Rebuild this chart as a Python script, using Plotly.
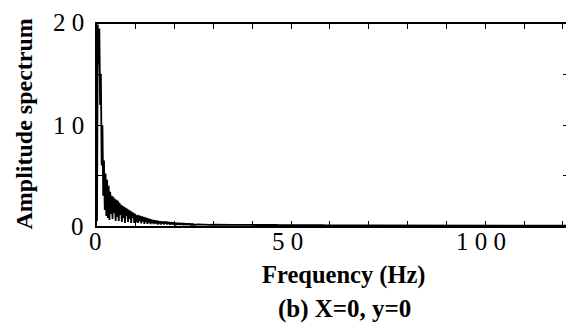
import numpy as np
import plotly.graph_objects as go

# Low-frequency part of the spectrum, sampled every 0.2 Hz from 0 Hz
amp_low = [
    0.5, 20.0, 16.0, 19.6, 12.0, 15.0, 6.0, 10.0, 3.0, 6.5, 1.6, 5.2, 1.0, 4.6, 0.8, 4.0,
    0.6, 3.4, 1.2, 3.0, 0.7, 2.9, 1.3, 2.7, 0.5, 2.6,
    0.9, 2.5, 0.5, 2.3, 1.1, 2.1, 0.4, 2.0, 0.8, 1.9, 0.3, 1.8, 1.0, 1.7, 0.4, 1.6,
    0.7, 1.5, 0.3, 1.4, 0.8, 1.3, 0.3, 1.2, 0.7,
    0.4, 1.1, 0.3, 1.05, 0.5, 1.0, 0.25, 0.95, 0.45, 0.9, 0.2, 0.85, 0.4, 0.8, 0.2, 0.75,
    0.35, 0.7, 0.2, 0.65, 0.3, 0.6, 0.2, 0.58, 0.3,
    0.25, 0.55, 0.15, 0.5, 0.25, 0.48, 0.15, 0.46, 0.25, 0.45, 0.15, 0.45, 0.25, 0.44, 0.15, 0.42,
    0.2, 0.4, 0.12, 0.38, 0.2, 0.36, 0.12, 0.34, 0.18,
    0.15, 0.33, 0.1, 0.32, 0.15, 0.31, 0.1, 0.3, 0.14, 0.29, 0.08, 0.28, 0.13, 0.27, 0.08, 0.26,
    0.12, 0.25, 0.08, 0.24, 0.11, 0.23, 0.07, 0.22, 0.1,
]
low_step_hz = 0.2

# High-frequency tail, sampled every 1 Hz from 26 Hz
amp_tail = [
    0.16, 0.12, 0.15, 0.11, 0.14, 0.12, 0.13, 0.10, 0.13, 0.11, 0.12, 0.10, 0.12, 0.09,
    0.11, 0.10, 0.11, 0.09, 0.10, 0.09, 0.10, 0.08, 0.10, 0.09, 0.09, 0.08, 0.09, 0.08,
    0.09, 0.07, 0.08, 0.08, 0.08, 0.07, 0.08, 0.07, 0.08, 0.07, 0.07, 0.06, 0.07, 0.07,
    0.07, 0.06, 0.07, 0.06, 0.06, 0.06, 0.06, 0.05, 0.06, 0.06, 0.06, 0.05, 0.06, 0.05,
    0.05, 0.05, 0.05, 0.05, 0.05, 0.04, 0.05, 0.05, 0.05, 0.04, 0.05, 0.04, 0.04, 0.04,
    0.04, 0.04, 0.04, 0.04, 0.04, 0.03, 0.04, 0.04, 0.04, 0.03, 0.04, 0.03, 0.03, 0.03,
    0.03, 0.03, 0.03, 0.03, 0.03, 0.03, 0.03, 0.03, 0.03, 0.03, 0.03, 0.03,
]
tail_start_hz = 26.0
tail_step_hz = 1.0

x_tickvals = [0, 10, 20, 30, 40, 50, 60, 70, 80, 90, 100, 110, 120]
x_ticktext = ["0", "", "", "", "", "5 0", "", "", "", "", "1 0 0", "", ""]
y_tickvals = [0, 5, 10, 15, 20]
y_ticktext = ["0", "", "1 0", "", "2 0"]

freq_low = np.arange(len(amp_low)) * low_step_hz
freq_tail = tail_start_hz + np.arange(len(amp_tail)) * tail_step_hz
freq = np.concatenate([freq_low, freq_tail])
amp = np.array(amp_low + amp_tail)

serif = "Liberation Serif, Times New Roman, serif"
tick_font = dict(family=serif, size=25, color="black")

fig = go.Figure()
fig.add_trace(go.Scatter(x=freq, y=amp, mode="lines",
                         line=dict(color="black", width=1.8), showlegend=False))

axis_common = dict(showline=True, linecolor="black", linewidth=1.8, mirror="ticks",
                   ticks="inside", ticklen=5, tickwidth=1.2, tickcolor="black",
                   showgrid=False, zeroline=False, automargin=False,
                   showticklabels=False)

fig.update_xaxes(range=[0, 121.3], tickmode="array", tickvals=x_tickvals, **axis_common)
fig.update_yaxes(range=[0, 20.05], tickmode="array", tickvals=y_tickvals, **axis_common)

annotations = []
# tick labels placed as text at the tick values
for v, t in zip(x_tickvals, x_ticktext):
    if t:
        annotations.append(dict(text=t, x=v, xref="x", y=0, yref="paper",
                                xanchor="center", yanchor="middle", yshift=-15,
                                xshift=-4 if v > 0 else -2,
                                showarrow=False, font=tick_font))
for v, t in zip(y_tickvals, y_ticktext):
    if t:
        annotations.append(dict(text=t, x=0, xref="paper", y=v, yref="y",
                                xanchor="right", yanchor="middle", xshift=-11,
                                yshift=2 if v == 20 else 0,
                                showarrow=False, font=tick_font))

annotations += [
    dict(text="<b>Amplitude spectrum</b>", xref="paper", yref="paper",
         x=-0.156, y=0.505, textangle=-90, showarrow=False,
         font=dict(family=serif, size=24, color="black"),
         xanchor="center", yanchor="middle"),
    dict(text="<b>Frequency (Hz)</b>", xref="paper", yref="paper",
         x=0.524, y=-0.243, showarrow=False,
         font=dict(family=serif, size=24.5, color="black"),
         xanchor="center", yanchor="middle"),
    dict(text="<b>(b) X=0, y=0</b>", xref="paper", yref="paper",
         x=0.526, y=-0.411, showarrow=False,
         font=dict(family=serif, size=25, color="black"),
         xanchor="center", yanchor="middle"),
]

# the page body adds an 8 px offset, so the figure is sized to fit the window
fig.update_layout(
    width=566, height=325,
    margin=dict(l=89, r=6, t=16, b=107),
    plot_bgcolor="white", paper_bgcolor="white",
    annotations=annotations,
)

fig.write_html("out.html")
